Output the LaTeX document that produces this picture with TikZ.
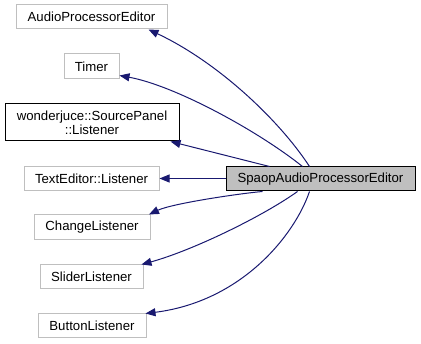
\documentclass[tikz,border=0pt]{standalone}
\usepackage{fontspec}
\setmainfont{Liberation Sans}
\usetikzlibrary{arrows.meta}
\definecolor{edgeblue}{RGB}{25,25,112}
\definecolor{boxgray}{RGB}{191,191,191}
\definecolor{fillgray}{RGB}{191,191,191}
\begin{document}
\begin{tikzpicture}[x=1pt,y=-1pt,
  cls/.style={draw=boxgray,line width=1pt,fill=white,inner sep=0pt,
    font=\fontsize{13.2}{13.6}\selectfont,align=center},
  docls/.style={cls,draw=black},
  maincls/.style={cls,draw=black,fill=fillgray},
  inherit/.style={draw=edgeblue,line width=1pt,
    -{Triangle[length=10pt,width=8pt]}}]
\useasboundingbox (0,0) rectangle (421,344);
% base classes
\node[cls,minimum width=151pt,minimum height=24pt] (ape) at (91.5,17) {AudioProcessorEditor};
\node[cls,minimum width=55pt,minimum height=25pt] (timer) at (91.5,66.5) {Timer};
\node[docls,minimum width=174pt,minimum height=37pt] (wj) at (92,122.5) {wonderjuce::SourcePanel\\::Listener};
\node[cls,minimum width=135pt,minimum height=24pt] (tel) at (91.5,178.5) {TextEditor::Listener};
\node[cls,minimum width=116pt,minimum height=25pt] (chg) at (92,227.5) {ChangeListener};
\node[cls,minimum width=103pt,minimum height=24pt] (sld) at (91.5,277) {SliderListener};
\node[cls,minimum width=108pt,minimum height=24pt] (btn) at (92,326) {ButtonListener};
% derived class
\node[maincls,minimum width=189pt,minimum height=24pt] (sp) at (320.5,179) {SpaopAudioProcessorEditor};
% inheritance edges
\draw[inherit] ([xshift=84pt]sp.north west) .. controls +(-30,-46) and +(70,33) .. ([xshift=-19pt]ape.south east);
\draw[inherit] ([xshift=77pt]sp.north west) .. controls +(-45,-36) and +(55,10) .. ([yshift=4pt]timer.south east);
\draw[inherit] ([xshift=44pt]sp.north west) -- ([xshift=-9pt]wj.south east);
\draw[inherit] ([yshift=0.5pt]sp.west) -- (tel.east);
\draw[inherit] ([xshift=37pt]sp.south west) .. controls +(-23,2) and +(23,-11) .. ([xshift=-1.5pt]chg.north east);
\draw[inherit] ([xshift=72pt]sp.south west) .. controls +(-35,25) and +(51,-14) .. ([xshift=-2pt]sld.north east);
\draw[inherit] ([xshift=84pt]sp.south west) .. controls +(-15,44) and +(96,-12) .. ([xshift=-1pt]btn.north east);
\end{tikzpicture}
\end{document}
